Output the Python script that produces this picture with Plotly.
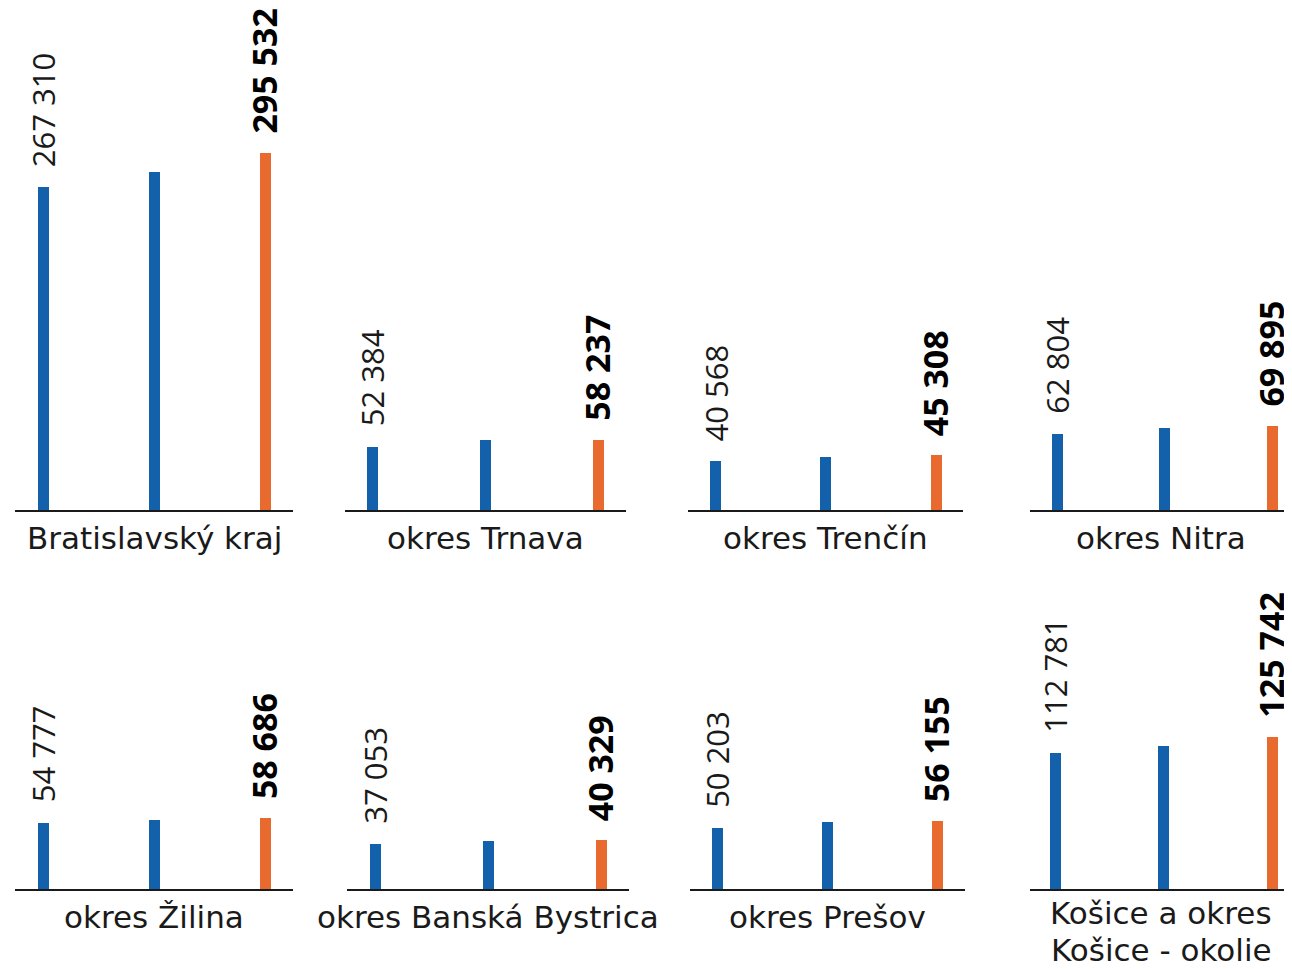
import plotly.graph_objects as go

regions = ["Bratislavský kraj", "okres Trnava", "okres Trenčín", "okres Nitra",
           "okres Žilina", "okres Banská Bystrica", "okres Prešov",
           "Košice a okres<br>Košice - okolie"]
first_values = [267310, 52384, 40568, 62804, 54777, 37053, 50203, 112781]
middle_values = [280000, 57700, 43900, 67700, 57300, 40000, 55100, 118700]
last_values = [295532, 58237, 45308, 69895, 58686, 40329, 56155, 125742]

BLUE = "#1461AB"
ORANGE = "#E86A2F"
TEXT = "#1a1a1a"
OFF = 8  # page body margin
W, H = 1292 - OFF, 969 - OFF
PX_PER_UNIT = 828.0  # value per pixel

# layout geometry (screen pixels): left, right, first bar centre, spacing
panels = [
    (15, 293, 43, 111), (345, 626, 372, 113), (688, 963, 715, 110.5), (1030, 1292, 1057, 107.5),
    (15, 293, 43, 111), (347, 629, 375, 113), (690, 965, 717, 110), (1030, 1292, 1055, 108.5),
]
row_base = [510, 889]
row_top = [8, 560]
LINE_GAP = 37

fig = go.Figure()
annotations = []
for i, name in enumerate(regions):
    L, R, c0, s = panels[i]
    L, R, c0 = L - OFF, R - OFF, c0 - OFF
    row = i // 4
    n = i + 1
    xa = "x" if n == 1 else f"x{n}"
    ya = "y" if n == 1 else f"y{n}"
    vals = [first_values[i], middle_values[i], last_values[i]]
    fig.add_trace(go.Bar(
        x=[0, 1, 2], y=vals, width=11 / s,
        marker=dict(color=[BLUE, BLUE, ORANGE], line=dict(width=0)),
        xaxis=xa, yaxis=ya, showlegend=False, hoverinfo="skip",
    ))
    base = row_base[row] - OFF
    top = row_top[row] - OFF
    hpx = base - top
    fig.layout[f"xaxis{'' if n == 1 else n}"] = dict(
        domain=[L / W, min(R / W, 1)], range=[-(c0 - L) / s, (R - c0) / s],
        showgrid=False, zeroline=False, showticklabels=False, ticks="",
        showline=True, linecolor="#1a1a1a", linewidth=2, anchor=ya, fixedrange=True,
    )
    fig.layout[f"yaxis{'' if n == 1 else n}"] = dict(
        domain=[(H - base) / H, (H - top) / H], range=[0, hpx * PX_PER_UNIT],
        showgrid=False, zeroline=False, showticklabels=False, ticks="",
        showline=False, anchor=xa, fixedrange=True,
    )
    annotations.append(dict(
        x=0, y=first_values[i], xref=xa, yref=ya, text=f"{first_values[i]:,}".replace(",", " "),
        textangle=-90, showarrow=False, xanchor="center", yanchor="bottom", yshift=18,
        font=dict(family="Open Sans", size=31, color=TEXT),
    ))
    annotations.append(dict(
        x=2, y=last_values[i], xref=xa, yref=ya, text=f"<b>{last_values[i]:,}</b>".replace(",", " "),
        textangle=-90, showarrow=False, xanchor="center", yanchor="bottom", yshift=17, xshift=-1,
        font=dict(family="Open Sans", size=34, color="#000000"),
    ))
    lines = name.split("<br>")
    for k, line in enumerate(lines):
        annotations.append(dict(
            x=0.5, y=0, xref=f"{xa} domain", yref=f"{ya} domain", text=line,
            showarrow=False, xanchor="center", yanchor="top",
            yshift=(-8 if len(lines) == 1 else -4) - k * LINE_GAP,
            font=dict(family="DejaVu Sans", size=31, color=TEXT),
        ))

fig.update_layout(
    width=W, height=H, margin=dict(l=0, r=0, t=0, b=0),
    paper_bgcolor="white", plot_bgcolor="white",
    annotations=annotations, bargap=0,
)
fig.write_html("out.html")
